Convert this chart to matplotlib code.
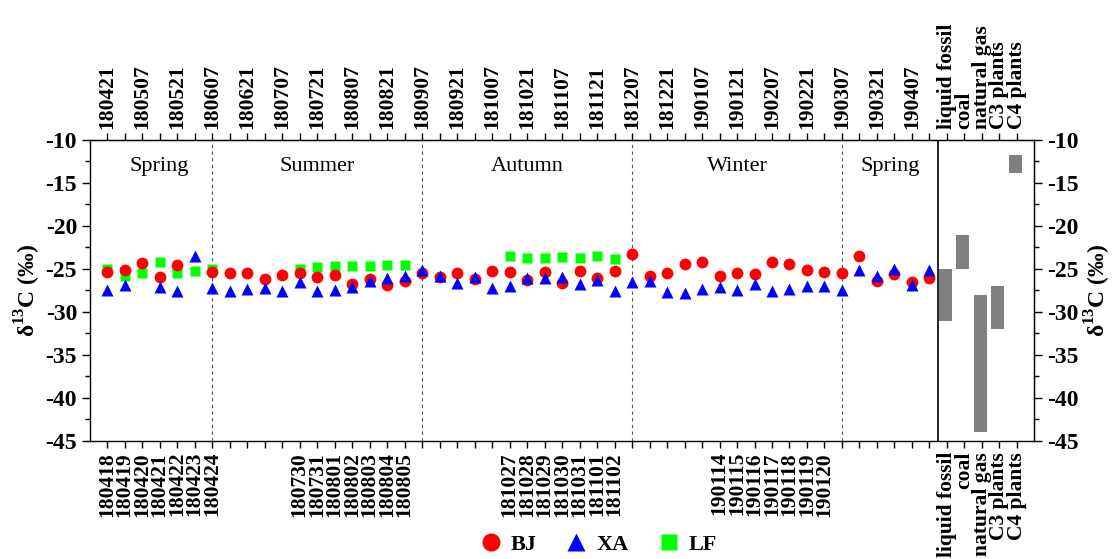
import numpy as np
import matplotlib
matplotlib.use("Agg")
import matplotlib.pyplot as plt
from matplotlib.lines import Line2D
from matplotlib.ticker import MultipleLocator

plt.rcParams['font.family'] = ['Liberation Serif', 'DejaVu Serif']
plt.rcParams['mathtext.fontset'] = 'custom'
plt.rcParams['mathtext.rm'] = 'Liberation Serif:bold'
plt.rcParams['axes.unicode_minus'] = False

# d13C values per sampling slot (None = no sample)
bj = [-25.3, -25.1, -24.3, -25.9, -24.5, None, -25.4, -25.45, -25.5, -26.2,
      -25.7, -25.5, -25.95, -25.7, -26.7, -26.2, -26.9, -26.4, -25.45, -25.9,
      -25.45, -26.2, -25.2, -25.4, -26.3, -25.4, -26.6, -25.2, -26.0, -25.2,
      -23.2, -25.8, -25.45, -24.4, -24.2, -25.8, -25.45, -25.6, -24.2, -24.4,
      -25.1, -25.3, -25.5, -23.5, -26.4, -25.6, -26.5, -26.1]
xa = [-27.4, -26.9, None, -27.1, -27.6, -23.5, -27.2, -27.6, -27.3, -27.2,
      -27.6, -26.5, -27.6, -27.5, -27.1, -26.4, -26.1, -25.8, -25.1, -25.8,
      -26.6, -25.9, -27.2, -27.0, -26.1, -26.0, -25.9, -26.8, -26.3, -27.6,
      -26.5, -26.4, -27.7, -27.8, -27.3, -27.1, -27.5, -26.7, -27.6, -27.3,
      -27.0, -27.0, -27.5, -25.1, -25.8, -25.0, -26.9, -25.1]
lf = [-24.95, -25.8, -25.45, -24.2, -25.45, -25.2, -25.0, None, None, None,
      None, -25.06, -24.8, -24.7, -24.7, -24.7, -24.5, -24.5, None, None,
      None, None, None, -23.5, -23.7, -23.7, -23.6, -23.75, -23.5, -23.8,
      None, None, None, None, None, None, None, None, None, None,
      None, None, None, None, None, None, None, None]

# biweekly dates on top axis, one every second slot
top_dates = ['180421', '180507', '180521', '180607', '180621', '180707',
             '180721', '180807', '180821', '180907', '180921', '181007',
             '181021', '181107', '181121', '181207', '181221', '190107',
             '190121', '190207', '190221', '190307', '190321', '190407']

# intensive campaign days on bottom axis
campaigns = {
    0: ['180418', '180419', '180420', '180421', '180422', '180423', '180424'],
    11: ['180730', '180731', '180801', '180802', '180803', '180804', '180805'],
    23: ['181027', '181028', '181029', '181030', '181031', '181101', '181102'],
    35: ['190114', '190115', '190116', '190117', '190118', '190119', '190120'],
}

seasons = ['Spring', 'Summer', 'Autumn', 'Winter', 'Spring']
season_breaks = [6, 18, 30, 42]

sources = ['liquid fossil', 'coal', 'natural gas', 'C3 plants', 'C4 plants']
src_low = [-31.0, -25.0, -44.0, -32.0, -13.8]
src_high = [-25.0, -21.0, -28.0, -27.0, -11.7]


def to_arr(vals):
    return np.array([np.nan if v is None else v for v in vals], dtype=float)


n = len(bj)
idx = np.arange(n)
src_x = np.arange(n, n + len(sources))
split = n - 0.5

fig = plt.figure(figsize=(11.12, 5.59), dpi=100)
ax = fig.add_axes([0.0805, 0.2111, 0.8498, 0.5385])

ax.plot(idx, to_arr(lf), 's', color='#00ff00', ms=7.5, mec='none', zorder=3)
ax.plot(idx, to_arr(bj), 'o', color='#ff0000', ms=8.5, mec='none', zorder=4)
ax.plot(idx, to_arr(xa), '^', color='#0000ff', ms=9, mec='none', zorder=5)

# isotope ranges of the candidate sources
ax.bar(src_x - 0.1, np.array(src_high) - np.array(src_low), bottom=src_low,
       width=0.72, color='#808080', zorder=2)

for b in season_breaks:
    ax.axvline(b, color='#555555', lw=0.8, ls=(0, (3, 3)), zorder=1)
ax.axvline(split, color='black', lw=1.2, zorder=1)

season_mid = [(-1 + season_breaks[0]) / 2 + 0.5] + \
             [(a + b) / 2 for a, b in zip(season_breaks[:-1], season_breaks[1:])] + \
             [(season_breaks[-1] + split) / 2]
for s, xm in zip(seasons, season_mid):
    ax.text(xm, -13.1, s, ha='center', va='center', fontsize=16)

ax.set_xlim(-1, n + len(sources))
ax.set_ylim(-45, -10)
ax.yaxis.set_major_locator(MultipleLocator(5))
ax.yaxis.set_minor_locator(MultipleLocator(2.5))

all_ticks = np.arange(0, n + len(sources))
bottom_labels = [''] * len(all_ticks)
for start, days in campaigns.items():
    for k, d in enumerate(days):
        bottom_labels[start + k] = d
top_labels = [''] * len(all_ticks)
for k, d in enumerate(top_dates):
    top_labels[2 * k] = d
for k, s in enumerate(sources):
    bottom_labels[n + k] = s
    top_labels[n + k] = s

ax.set_xticks(all_ticks)
ax.set_xticklabels(bottom_labels, rotation=90, fontsize=15.5, fontweight='bold')
top = ax.secondary_xaxis('top')
top.set_xticks(all_ticks)
top.set_xticklabels(top_labels, rotation=90, fontsize=15.5, fontweight='bold')

right = ax.secondary_yaxis('right')
right.yaxis.set_major_locator(MultipleLocator(5))
right.yaxis.set_minor_locator(MultipleLocator(2.5))

ylab = r'δ$^{\mathregular{13}}$C (‰)'
ax.set_ylabel(ylab, fontsize=17, fontweight='bold', labelpad=2)
right.set_ylabel(ylab, fontsize=17, fontweight='bold', labelpad=3)

for a in (ax, right):
    for t in a.get_yticklabels():
        t.set_fontweight('bold')
    a.tick_params(axis='y', which='major', length=6, width=1, labelsize=17, pad=3)
    a.tick_params(axis='y', which='minor', length=3.5, width=1)
for a in (ax, top):
    a.tick_params(axis='x', length=5, width=1, pad=3)
for sp in ax.spines.values():
    sp.set_linewidth(1)

handles = [
    Line2D([], [], marker='o', ls='none', color='#ff0000', mec='none', ms=13),
    Line2D([], [], marker='^', ls='none', color='#0000ff', mec='none', ms=13),
    Line2D([], [], marker='s', ls='none', color='#00ff00', mec='none', ms=11),
]
fig.legend(handles, ['BJ', 'XA', 'LF'], loc='center', ncol=3,
           bbox_to_anchor=(0.538, 0.026), frameon=False, handlelength=1.0,
           handletextpad=0.4, columnspacing=1.3,
           prop={'weight': 'bold', 'size': 16})

fig.savefig('out.png', dpi=100)
